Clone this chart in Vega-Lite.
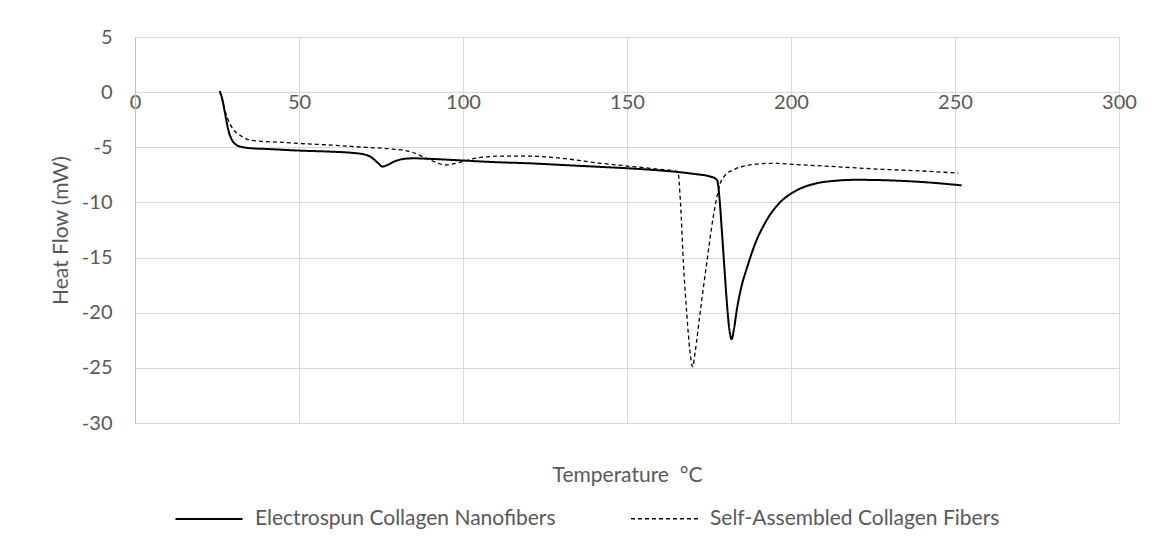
{
  "$schema": "https://vega.github.io/schema/vega-lite/v6.json",
  "width": 984,
  "height": 386,
  "autosize": {"type": "none"},
  "padding": {"left": 135, "top": 37, "right": 40, "bottom": 126},
  "background": "white",
  "config": {
    "view": {"stroke": null},
    "font": "Lato",
    "axis": {"gridColor": "#d9d9d9", "gridWidth": 1, "labelColor": "#595959", "titleColor": "#595959", "labelFont": "Lato", "titleFont": "Lato", "titleFontWeight": "normal"}
  },
  "datasets": {
    "curves": [
      {"series": "Electrospun Collagen Nanofibers", "T": 25.8, "hf": 0.1},
      {"series": "Electrospun Collagen Nanofibers", "T": 26.5, "hf": -0.5},
      {"series": "Electrospun Collagen Nanofibers", "T": 27.5, "hf": -2.0},
      {"series": "Electrospun Collagen Nanofibers", "T": 28.5, "hf": -3.5},
      {"series": "Electrospun Collagen Nanofibers", "T": 29.5, "hf": -4.3},
      {"series": "Electrospun Collagen Nanofibers", "T": 31, "hf": -4.8},
      {"series": "Electrospun Collagen Nanofibers", "T": 33, "hf": -5.0},
      {"series": "Electrospun Collagen Nanofibers", "T": 36, "hf": -5.1},
      {"series": "Electrospun Collagen Nanofibers", "T": 40, "hf": -5.15},
      {"series": "Electrospun Collagen Nanofibers", "T": 50, "hf": -5.3},
      {"series": "Electrospun Collagen Nanofibers", "T": 60, "hf": -5.4},
      {"series": "Electrospun Collagen Nanofibers", "T": 66, "hf": -5.5},
      {"series": "Electrospun Collagen Nanofibers", "T": 70, "hf": -5.65},
      {"series": "Electrospun Collagen Nanofibers", "T": 72, "hf": -5.9},
      {"series": "Electrospun Collagen Nanofibers", "T": 74, "hf": -6.4},
      {"series": "Electrospun Collagen Nanofibers", "T": 75.5, "hf": -6.75},
      {"series": "Electrospun Collagen Nanofibers", "T": 77, "hf": -6.6},
      {"series": "Electrospun Collagen Nanofibers", "T": 79, "hf": -6.3},
      {"series": "Electrospun Collagen Nanofibers", "T": 82, "hf": -6.05},
      {"series": "Electrospun Collagen Nanofibers", "T": 85, "hf": -6.0},
      {"series": "Electrospun Collagen Nanofibers", "T": 90, "hf": -6.05},
      {"series": "Electrospun Collagen Nanofibers", "T": 100, "hf": -6.2},
      {"series": "Electrospun Collagen Nanofibers", "T": 110, "hf": -6.35},
      {"series": "Electrospun Collagen Nanofibers", "T": 120, "hf": -6.45},
      {"series": "Electrospun Collagen Nanofibers", "T": 130, "hf": -6.6},
      {"series": "Electrospun Collagen Nanofibers", "T": 140, "hf": -6.75},
      {"series": "Electrospun Collagen Nanofibers", "T": 150, "hf": -6.9},
      {"series": "Electrospun Collagen Nanofibers", "T": 160, "hf": -7.1},
      {"series": "Electrospun Collagen Nanofibers", "T": 170, "hf": -7.4},
      {"series": "Electrospun Collagen Nanofibers", "T": 176, "hf": -7.7},
      {"series": "Electrospun Collagen Nanofibers", "T": 177.5, "hf": -8.0},
      {"series": "Electrospun Collagen Nanofibers", "T": 178.3, "hf": -10.0},
      {"series": "Electrospun Collagen Nanofibers", "T": 178.9, "hf": -12.5},
      {"series": "Electrospun Collagen Nanofibers", "T": 179.6, "hf": -15.5},
      {"series": "Electrospun Collagen Nanofibers", "T": 180.3, "hf": -18.5},
      {"series": "Electrospun Collagen Nanofibers", "T": 181.2, "hf": -21.5},
      {"series": "Electrospun Collagen Nanofibers", "T": 181.9, "hf": -22.4},
      {"series": "Electrospun Collagen Nanofibers", "T": 182.6, "hf": -21.5},
      {"series": "Electrospun Collagen Nanofibers", "T": 183.5, "hf": -19.7},
      {"series": "Electrospun Collagen Nanofibers", "T": 185, "hf": -17.5},
      {"series": "Electrospun Collagen Nanofibers", "T": 186.5, "hf": -16.0},
      {"series": "Electrospun Collagen Nanofibers", "T": 189, "hf": -13.8},
      {"series": "Electrospun Collagen Nanofibers", "T": 192.6, "hf": -11.6},
      {"series": "Electrospun Collagen Nanofibers", "T": 196, "hf": -10.2},
      {"series": "Electrospun Collagen Nanofibers", "T": 200, "hf": -9.2},
      {"series": "Electrospun Collagen Nanofibers", "T": 204, "hf": -8.6},
      {"series": "Electrospun Collagen Nanofibers", "T": 208, "hf": -8.25},
      {"series": "Electrospun Collagen Nanofibers", "T": 213, "hf": -8.05},
      {"series": "Electrospun Collagen Nanofibers", "T": 220, "hf": -7.95},
      {"series": "Electrospun Collagen Nanofibers", "T": 230, "hf": -8.0},
      {"series": "Electrospun Collagen Nanofibers", "T": 240, "hf": -8.15},
      {"series": "Electrospun Collagen Nanofibers", "T": 252, "hf": -8.45},
      {"series": "Self-Assembled Collagen Fibers", "T": 25.8, "hf": 0.1},
      {"series": "Self-Assembled Collagen Fibers", "T": 26.5, "hf": -0.6},
      {"series": "Self-Assembled Collagen Fibers", "T": 27.3, "hf": -1.5},
      {"series": "Self-Assembled Collagen Fibers", "T": 28, "hf": -2.2},
      {"series": "Self-Assembled Collagen Fibers", "T": 29, "hf": -2.9},
      {"series": "Self-Assembled Collagen Fibers", "T": 30, "hf": -3.4},
      {"series": "Self-Assembled Collagen Fibers", "T": 32, "hf": -3.9},
      {"series": "Self-Assembled Collagen Fibers", "T": 34, "hf": -4.25},
      {"series": "Self-Assembled Collagen Fibers", "T": 38, "hf": -4.45},
      {"series": "Self-Assembled Collagen Fibers", "T": 45, "hf": -4.55},
      {"series": "Self-Assembled Collagen Fibers", "T": 50, "hf": -4.65},
      {"series": "Self-Assembled Collagen Fibers", "T": 60, "hf": -4.8},
      {"series": "Self-Assembled Collagen Fibers", "T": 70, "hf": -5.0},
      {"series": "Self-Assembled Collagen Fibers", "T": 78, "hf": -5.15},
      {"series": "Self-Assembled Collagen Fibers", "T": 84, "hf": -5.4},
      {"series": "Self-Assembled Collagen Fibers", "T": 87, "hf": -5.75},
      {"series": "Self-Assembled Collagen Fibers", "T": 90, "hf": -6.15},
      {"series": "Self-Assembled Collagen Fibers", "T": 92.5, "hf": -6.45},
      {"series": "Self-Assembled Collagen Fibers", "T": 94.5, "hf": -6.6},
      {"series": "Self-Assembled Collagen Fibers", "T": 97, "hf": -6.5},
      {"series": "Self-Assembled Collagen Fibers", "T": 100, "hf": -6.3},
      {"series": "Self-Assembled Collagen Fibers", "T": 103, "hf": -6.05},
      {"series": "Self-Assembled Collagen Fibers", "T": 106, "hf": -5.9},
      {"series": "Self-Assembled Collagen Fibers", "T": 112, "hf": -5.8},
      {"series": "Self-Assembled Collagen Fibers", "T": 120, "hf": -5.8},
      {"series": "Self-Assembled Collagen Fibers", "T": 130, "hf": -6.0},
      {"series": "Self-Assembled Collagen Fibers", "T": 142, "hf": -6.45},
      {"series": "Self-Assembled Collagen Fibers", "T": 150, "hf": -6.7},
      {"series": "Self-Assembled Collagen Fibers", "T": 160, "hf": -7.0},
      {"series": "Self-Assembled Collagen Fibers", "T": 165.5, "hf": -7.2},
      {"series": "Self-Assembled Collagen Fibers", "T": 166.3, "hf": -10.0},
      {"series": "Self-Assembled Collagen Fibers", "T": 167.2, "hf": -15.5},
      {"series": "Self-Assembled Collagen Fibers", "T": 168.2, "hf": -20.0},
      {"series": "Self-Assembled Collagen Fibers", "T": 169.2, "hf": -23.5},
      {"series": "Self-Assembled Collagen Fibers", "T": 170, "hf": -24.9},
      {"series": "Self-Assembled Collagen Fibers", "T": 170.8, "hf": -23.5},
      {"series": "Self-Assembled Collagen Fibers", "T": 172.3, "hf": -20.0},
      {"series": "Self-Assembled Collagen Fibers", "T": 174.3, "hf": -15.5},
      {"series": "Self-Assembled Collagen Fibers", "T": 176.3, "hf": -11.3},
      {"series": "Self-Assembled Collagen Fibers", "T": 178.4, "hf": -8.3},
      {"series": "Self-Assembled Collagen Fibers", "T": 180, "hf": -7.5},
      {"series": "Self-Assembled Collagen Fibers", "T": 182.4, "hf": -7.05},
      {"series": "Self-Assembled Collagen Fibers", "T": 187.5, "hf": -6.6},
      {"series": "Self-Assembled Collagen Fibers", "T": 194.6, "hf": -6.45},
      {"series": "Self-Assembled Collagen Fibers", "T": 200.7, "hf": -6.55},
      {"series": "Self-Assembled Collagen Fibers", "T": 210, "hf": -6.7},
      {"series": "Self-Assembled Collagen Fibers", "T": 228, "hf": -7.0},
      {"series": "Self-Assembled Collagen Fibers", "T": 240, "hf": -7.15},
      {"series": "Self-Assembled Collagen Fibers", "T": 251, "hf": -7.35}
    ]
  },
  "data": {"name": "curves"},
  "mark": {"type": "line", "interpolate": "monotone", "color": "black"},
  "encoding": {
    "x": {
      "field": "T", "type": "quantitative",
      "scale": {"domain": [0, 300], "nice": false, "zero": false},
      "axis": {
        "values": [0, 50, 100, 150, 200, 250, 300],
        "labelExpr": "toString(datum.value)",
        "offset": -331,
        "domain": true, "domainColor": "#d9d9d9",
        "ticks": false,
        "labelPadding": 0,
        "labelFontSize": 20,
        "labelFlush": false,
        "grid": true,
        "title": "Temperature\u00a0 °C",
        "titleFontSize": 21,
        "titleY": 383,
        "titleBaseline": "middle"
      }
    },
    "y": {
      "field": "hf", "type": "quantitative",
      "scale": {"domain": [-30, 5], "nice": false, "zero": false},
      "axis": {
        "values": [5, 0, -5, -10, -15, -20, -25, -30],
        "labelExpr": "toString(datum.value)",
        "domain": true, "domainColor": "#bfbfbf",
        "ticks": false,
        "labelPadding": 23,
        "labelFontSize": 20,
        "grid": true,
        "title": "Heat Flow (mW)",
        "titleFontSize": 21,
        "titleX": -74,
        "titleY": 193,
        "titleAngle": -90,
        "titleBaseline": "middle",
        "titleAlign": "center"
      }
    },
    "strokeDash": {
      "field": "series", "type": "nominal",
      "scale": {"domain": ["Electrospun Collagen Nanofibers", "Self-Assembled Collagen Fibers"], "range": [[1, 0], [4, 3]]},
      "legend": {
        "title": null,
        "orient": "none",
        "direction": "horizontal",
        "legendX": 39,
        "legendY": 447,
        "symbolType": "stroke",
        "symbolSize": 4500,
        "symbolStrokeColor": "black",
        "symbolStrokeWidth": 1.6,
        "labelFontSize": 21,
        "labelColor": "#595959",
        "labelFont": "Lato",
        "labelLimit": 500,
        "labelOffset": 11,
        "columnPadding": 72
      }
    },
    "strokeWidth": {
      "field": "series", "type": "nominal",
      "scale": {"domain": ["Electrospun Collagen Nanofibers", "Self-Assembled Collagen Fibers"], "range": [2, 1.3]},
      "legend": null
    }
  }
}
